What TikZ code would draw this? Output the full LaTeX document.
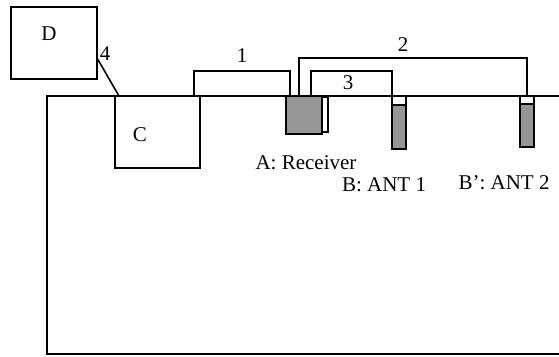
\documentclass[tikz,border=0pt]{standalone}
\usepackage{fontspec}
\setmainfont{Liberation Serif}
\usetikzlibrary{calc}
\definecolor{devgray}{RGB}{150,150,150}
\begin{document}
\begin{tikzpicture}[x=1pt,y=-1pt,
  box/.style={draw, line width=2pt, inner sep=0pt, outer sep=0pt},
  grayb/.style={box, fill=devgray},
  capb/.style={box, fill=white, line width=1.6pt},
  lbl/.style={inner sep=0pt, font=\fontsize{21}{23}\selectfont},
  link/.style={line width=1.5pt},
]
\useasboundingbox (0,0) rectangle (559,356);
% ground outline
\draw[line width=2.2pt] (559,96) -- (47,96) -- (47,354) -- (559,354);
% boxes
\node[box, minimum width=86pt, minimum height=72pt, fill=white] (D) at (54,43) {};
\node[lbl] at (49,34) {D};
\node[box, minimum width=85pt, minimum height=72pt, fill=white] (C) at (157.5,132) {};
\node[lbl] at (140,135) {C};
% receiver
\node[capb, line width=1.3pt, minimum width=6pt, minimum height=35pt] (Aside) at (325,114.5) {};
\node[grayb, minimum width=36pt, minimum height=38pt] (A) at (304,115) {};
% antennas
\node[capb, minimum width=14pt, minimum height=9pt] (Bcap) at (399,100.5) {};
\node[grayb, minimum width=14pt, minimum height=44pt] (B) at (399,127) {};
\node[capb, minimum width=14pt, minimum height=8pt] (B2cap) at (527,100) {};
\node[grayb, minimum width=14pt, minimum height=43pt] (B2) at (527,125.5) {};
% labels
\node[lbl] at (306,163) {A: Receiver};
\node[lbl] at (384,185) {B: ANT 1};
\node[lbl] at (504,183) {B': ANT 2};
% connectors
\coordinate (c1) at ($(C.north east)+(-6,0)$);
\draw[link] (c1) -- ++(0,-25) -| ($(A.north west)+(4,0)$);
\draw[link] ($(A.north west)+(13,0)$) -- ++(0,-38) -| (B2cap.north);
\draw[link] ($(A.north west)+(25,0)$) -- ++(0,-25) -| (Bcap.north west);
\draw[line width=1.6pt] ($(D.east)+(0,15)$) -- ($(C.north west)+(4,0)$);
\node[lbl] at (242,56) {1};
\node[lbl] at (403,45) {2};
\node[lbl] at (348,83) {3};
\node[lbl] at (105,54) {4};
\end{tikzpicture}
\end{document}
